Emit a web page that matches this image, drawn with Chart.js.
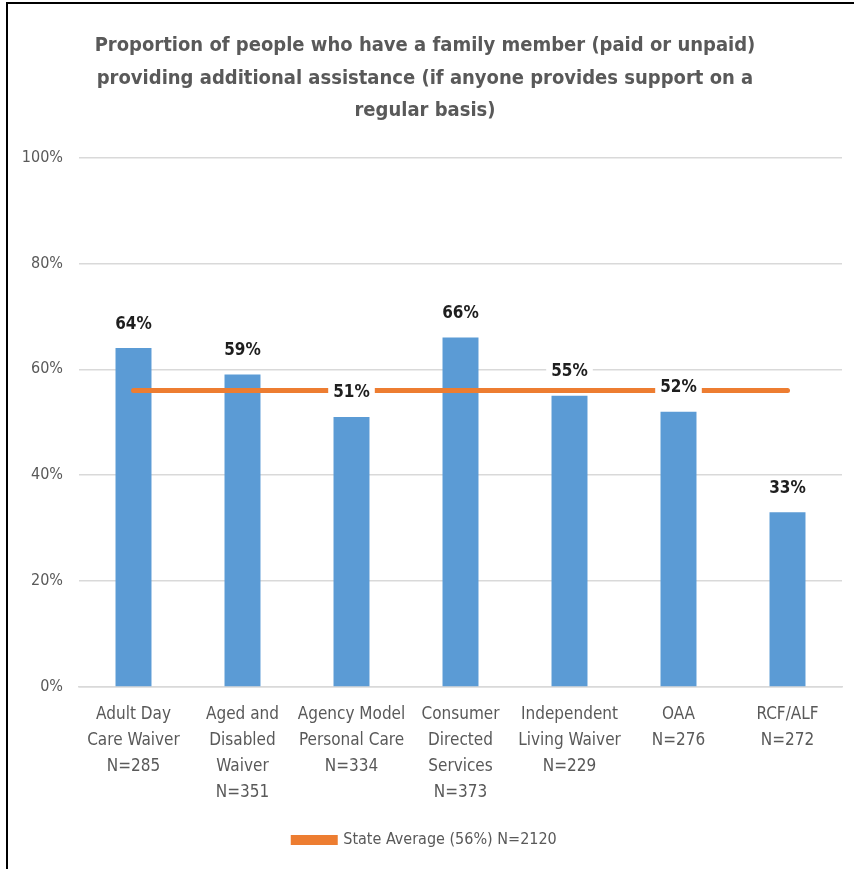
<!DOCTYPE html>
<html>
<head>
<meta charset="utf-8">
<script src="https://cdn.jsdelivr.net/npm/chart.js@4"></script>
<style>
    html, body { margin: 0; padding: 0; background: #ffffff; }
    #frame {
        position: absolute;
        left: 6px;
        top: 2px;
        width: 848px;
        height: 867px;
        border-top: 2px solid #000000;
        border-left: 2px solid #000000;
        box-sizing: border-box;
    }
    #chart-box {
        position: absolute;
        left: 8px;
        top: 4px;
        width: 846px;
        height: 865px;
    }
</style>
</head>
<body>
<div id="frame"></div>
<div id="chart-box"><canvas id="family-chart"></canvas></div>
<script>
// ========================================
// Data
// ========================================
const programs = [
    ['Adult Day', 'Care Waiver', 'N=285'],
    ['Aged and', 'Disabled', 'Waiver', 'N=351'],
    ['Agency Model', 'Personal Care', 'N=334'],
    ['Consumer', 'Directed', 'Services', 'N=373'],
    ['Independent', 'Living Waiver', 'N=229'],
    ['OAA', 'N=276'],
    ['RCF/ALF', 'N=272']
];
const familyShare = [64, 59, 51, 66, 55, 52, 33];
const stateAverage = [56, 56, 56, 56, 56, 56, 56];
const stateAverageLabel = 'State Average (56%) N=2120';
const yTicks = [0, 20, 40, 60, 80, 100];

const chartTitle = [
    'Proportion of people who have a family member (paid or unpaid)',
    'providing additional assistance (if anyone provides support on a',
    'regular basis)'
];

// ========================================
// Styles
// ========================================
const FONT = "'Liberation Sans Narrow', 'Arial Narrow', 'DejaVu Sans Condensed', sans-serif";
const TEXT_GRAY = '#595959';
const BAR_BLUE = '#5B9BD5';
const LINE_ORANGE = '#ED7D31';
const GRID_GRAY = '#D9D9D9';

// Percent labels above each bar, on a white box so lines behind are hidden
const barValueLabels = {
    id: 'barValueLabels',
    afterDatasetsDraw(chart) {
        const ctx = chart.ctx;
        const meta = chart.getDatasetMeta(1);
        ctx.save();
        ctx.font = `bold 17px ${FONT}`;
        ctx.textAlign = 'center';
        ctx.textBaseline = 'middle';
        meta.data.forEach((bar, i) => {
            const text = familyShare[i] + '%';
            const w = ctx.measureText(text).width + 10;
            const y = bar.y - 24;
            ctx.fillStyle = '#ffffff';
            ctx.fillRect(bar.x - w / 2, y - 12, w, 24);
            ctx.fillStyle = '#1e1e1e';
            ctx.fillText(text, bar.x, y);
        });
        ctx.restore();
    }
};

// ========================================
// Chart
// ========================================
const ctx = document.getElementById('family-chart').getContext('2d');

new Chart(ctx, {
    type: 'bar',
    data: {
        labels: programs,
        datasets: [
            {
                type: 'line',
                label: stateAverageLabel,
                data: stateAverage,
                borderColor: LINE_ORANGE,
                backgroundColor: LINE_ORANGE,
                borderWidth: 5,
                borderCapStyle: 'round',
                pointRadius: 0,
                order: 0
            },
            {
                label: 'Proportion',
                data: familyShare,
                backgroundColor: BAR_BLUE,
                barPercentage: 0.33,
                categoryPercentage: 1,
                order: 1
            }
        ]
    },
    options: {
        responsive: true,
        maintainAspectRatio: false,
        animation: false,
        layout: { padding: { top: 26, right: 12, left: 0, bottom: 11 } },
        plugins: {
            title: {
                display: true,
                text: chartTitle,
                color: TEXT_GRAY,
                font: { family: FONT, size: 20, weight: 'bold', lineHeight: '32.5px' },
                padding: { top: 0, bottom: 30 }
            },
            legend: {
                position: 'bottom',
                labels: {
                    filter: item => item.datasetIndex === 0,
                    color: TEXT_GRAY,
                    boxWidth: 42,
                    boxHeight: 5,
                    padding: 19,
                    font: { family: FONT, size: 16 }
                }
            },
            tooltip: { enabled: false }
        },
        scales: {
            x: {
                grid: { display: false },
                border: { color: GRID_GRAY, width: 1.5 },
                ticks: {
                    color: TEXT_GRAY,
                    maxRotation: 0,
                    autoSkip: false,
                    padding: 7,
                    font: { family: FONT, size: 17, lineHeight: '26px' }
                }
            },
            y: {
                min: 0,
                max: 100,
                afterBuildTicks(scale) {
                    scale.ticks = yTicks.map(v => ({ value: v }));
                },
                afterFit(scale) {
                    scale.width = 71;
                },
                border: { display: false },
                grid: { color: GRID_GRAY, lineWidth: 1.5, drawTicks: false },
                ticks: {
                    color: TEXT_GRAY,
                    padding: 16,
                    font: { family: FONT, size: 16 },
                    callback: value => value + '%'
                }
            }
        }
    },
    plugins: [barValueLabels]
});
</script>
</body>
</html>
